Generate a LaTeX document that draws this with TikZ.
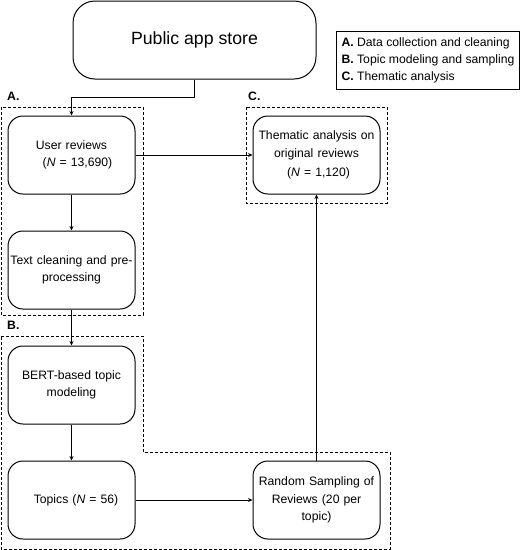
\documentclass[tikz,border=0pt]{standalone}
\usepackage{fontspec}
\setmainfont{Liberation Sans}
\usetikzlibrary{arrows.meta}
\tikzset{
  box/.style={draw, line width=1pt, rounded corners=15pt, minimum width=127pt, minimum height=78pt, inner sep=2pt, align=center, text width=123pt, font=\fontsize{12.2}{17.5}\selectfont},
  bigbox/.style={draw, line width=1pt, rounded corners=22pt, minimum width=243pt, minimum height=78pt, align=center, font=\fontsize{17.7}{20}\selectfont},
  legendbox/.style={draw, line width=1pt, minimum width=183pt, minimum height=58pt, align=left, inner sep=3pt, font=\fontsize{12.2}{17}\selectfont},
  arr/.style={line width=0.9pt, -{Stealth[length=4.5pt,width=4pt]}},
  region/.style={draw, dashed, line width=0.9pt, dash pattern=on 3pt off 2pt},
  tag/.style={font=\bfseries\fontsize{12.2}{14}\selectfont, anchor=west, inner sep=0pt}
}
\begin{document}
\begin{tikzpicture}[x=1pt,y=-1pt]
\useasboundingbox (0,0) rectangle (520,550);
% regions
\draw[region] (1,107) rectangle (143,315);
\draw[region] (246,107) rectangle (387,203);
\draw[region] (1,336) -- (143,336) -- (143,452) -- (390,452) -- (390,549) -- (1,549) -- cycle;
\node[tag] (ta) at (7,96) {A.};
\node[tag] (tc) at (248,96) {C.};
\node[tag] (tb) at (7,325) {B.};
% nodes
\node[bigbox] (store) at (194.5,40) {Public app store};
\node[legendbox, anchor=north west] (legend) at (336,31) {\textbf{A.} Data collection and cleaning\\\textbf{B.} Topic modeling and sampling\\\textbf{C.} Thematic analysis};
\node[box] (user) at (71.5,155) {User reviews\\\hspace*{12pt}(\textit{N} = 13,690)};
\node[box] (clean) at (71.5,270) {Text cleaning and pre-\\processing};
\node[box] (bert) at (71.5,385) {BERT-based topic\\modeling};
\node[box] (topics) at (71.5,500) {\hspace*{9pt}Topics (\textit{N} = 56)};
\node[box] (them) at (316.5,155) {Thematic analysis on\\original reviews\\[2pt]\hspace*{4pt}(\textit{N} = 1,120)};
\node[box] (rand) at (316.5,500) {Random Sampling of\\Reviews (20 per\\topic)};
% connectors
\coordinate (k1) at (194.5,97);
\draw[line width=0.9pt] (store.south) -- (k1);
\draw[arr] (k1) -| (user.north);
\draw[arr] (user) -- (them);
\draw[arr] (user) -- (clean);
\draw[arr] (clean) -- (bert);
\draw[arr] (bert) -- (topics);
\draw[arr] (topics) -- (rand);
\draw[arr] (rand) -- (them);
\end{tikzpicture}
\end{document}
